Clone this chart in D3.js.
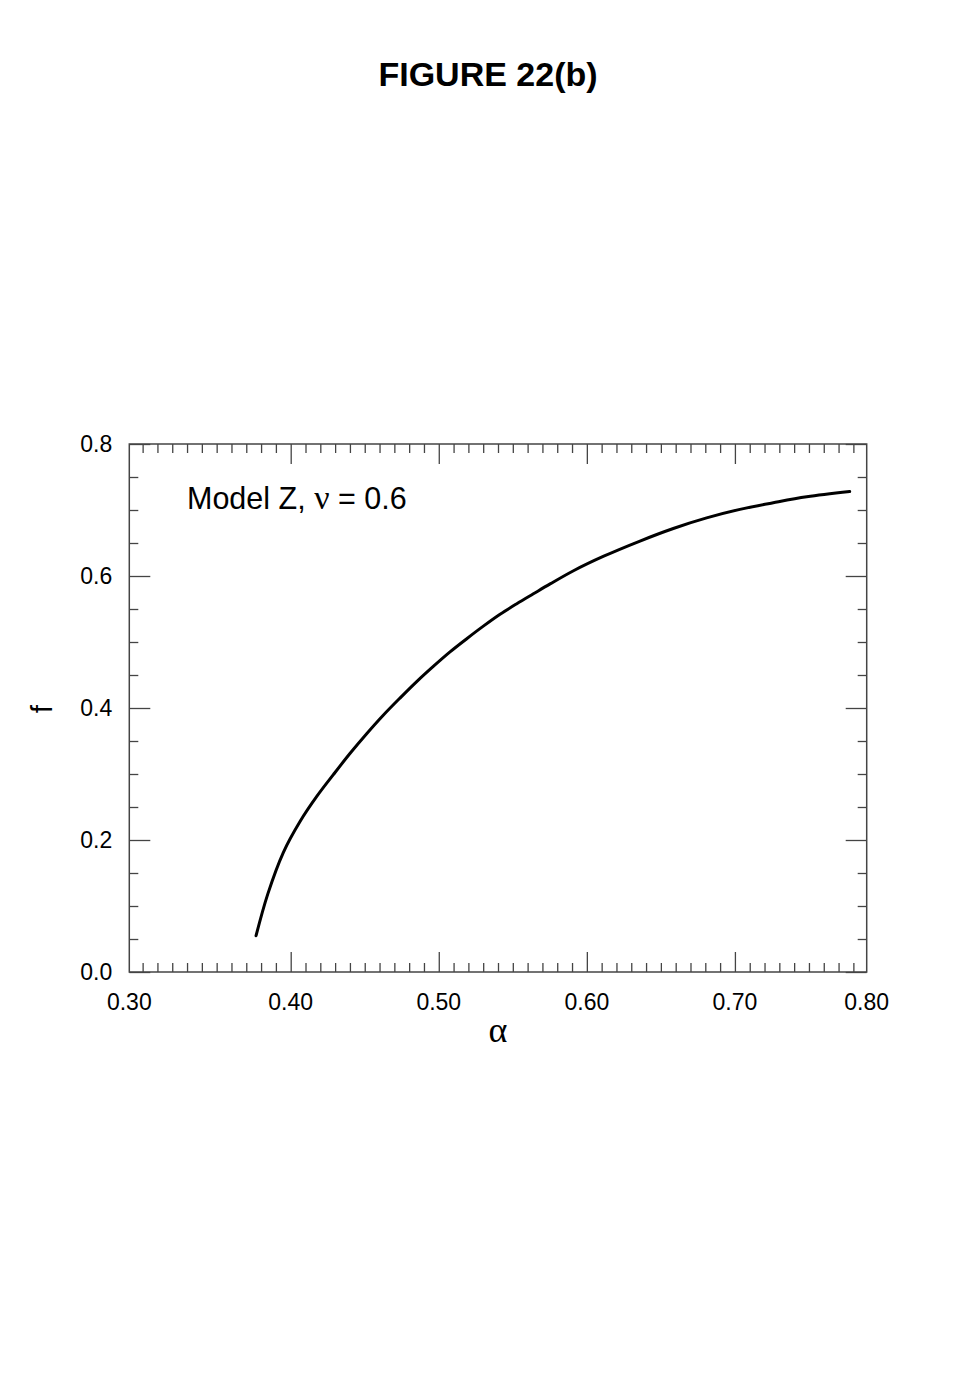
<!DOCTYPE html>
<html>
<head>
<meta charset="utf-8">
<script src="https://cdn.jsdelivr.net/npm/d3@7"></script>
<style>
  body { margin: 0; background: #fff; }
  svg { display: block; }
  text { font-family: "Liberation Sans", Arial, Helvetica, sans-serif; fill: #000; }
  .frame { fill: none; stroke: #444; stroke-width: 1.5; }
  .axis path { display: none; }
  .axis line { stroke: #444; stroke-width: 1.3; }
</style>
</head>
<body>
<div id="chart"></div>
<script>
// curve f(alpha) for Model Z, nu = 0.6
const alphaValues = [0.3766, 0.3845, 0.3950, 0.4063, 0.4176, 0.4288, 0.4400, 0.4513, 0.4625,
  0.4738, 0.4851, 0.4963, 0.5076, 0.5189, 0.5301, 0.5414, 0.5527, 0.5639, 0.5752, 0.5910,
  0.6114, 0.6359, 0.6584, 0.6809, 0.7034, 0.7259, 0.7485, 0.7775];
const fValues = [0.055, 0.118, 0.181, 0.228, 0.266, 0.299, 0.331, 0.361, 0.389,
  0.415, 0.440, 0.463, 0.485, 0.505, 0.524, 0.542, 0.558, 0.573, 0.588, 0.608,
  0.630, 0.653, 0.672, 0.688, 0.701, 0.711, 0.720, 0.728];

// axis extents and labels
const xDomain = [0.291, 0.789];
const yDomain = [0, 0.8];
const xMajorTicks = [0.4, 0.5, 0.6, 0.7];
const xMinorTicks = d3.range(30, 79).map(d => d / 100).filter(d => !xMajorTicks.includes(d));
const yMajorTicks = [0, 0.2, 0.4, 0.6, 0.8];
const yMinorTicks = [0.05, 0.1, 0.15, 0.25, 0.3, 0.35, 0.45, 0.5, 0.55, 0.65, 0.7, 0.75];
// the original puts its end labels on the frame edges
const xTickLabels = ['0.30', '0.40', '0.50', '0.60', '0.70', '0.80'];
const xLabelPositions = [xDomain[0], 0.4, 0.5, 0.6, 0.7, xDomain[1]];
const yTickLabels = ['0.0', '0.2', '0.4', '0.6', '0.8'];

const width = 972;
const height = 1384;
const plotLeft = 129.3;
const plotRight = 866.7;
const plotTop = 444;
const plotBottom = 972;

const svg = d3.select('#chart')
  .append('svg')
  .attr('width', width)
  .attr('height', height);

const x = d3.scaleLinear().domain(xDomain).range([plotLeft, plotRight]);
const y = d3.scaleLinear().domain(yDomain).range([plotBottom, plotTop]);

svg.append('text')
  .attr('x', 488)
  .attr('y', 86)
  .attr('text-anchor', 'middle')
  .style('font-size', '34px')
  .style('font-weight', 'bold')
  .text('FIGURE 22(b)');

const axes = svg.append('g');

function addAxis(axisFn, scale, ticks, size, transform) {
  axes.append('g')
    .attr('class', 'axis')
    .attr('transform', transform)
    .call(axisFn(scale).tickValues(ticks).tickSizeInner(-size).tickSizeOuter(0).tickFormat(''));
}

// ticks point inward on all four sides
addAxis(d3.axisBottom, x, xMinorTicks, 9, `translate(0,${plotBottom})`);
addAxis(d3.axisBottom, x, xMajorTicks, 20, `translate(0,${plotBottom})`);
addAxis(d3.axisTop, x, xMinorTicks, 9, `translate(0,${plotTop})`);
addAxis(d3.axisTop, x, xMajorTicks, 20, `translate(0,${plotTop})`);
addAxis(d3.axisLeft, y, yMinorTicks, 9, `translate(${plotLeft},0)`);
addAxis(d3.axisLeft, y, yMajorTicks, 21, `translate(${plotLeft},0)`);
addAxis(d3.axisRight, y, yMinorTicks, 9, `translate(${plotRight},0)`);
addAxis(d3.axisRight, y, yMajorTicks, 21, `translate(${plotRight},0)`);

svg.append('rect')
  .attr('class', 'frame')
  .attr('x', plotLeft)
  .attr('y', plotTop)
  .attr('width', plotRight - plotLeft)
  .attr('height', plotBottom - plotTop);

svg.append('g')
  .selectAll('text')
  .data(xTickLabels)
  .join('text')
  .attr('x', (d, i) => x(xLabelPositions[i]))
  .attr('y', plotBottom + 38)
  .attr('text-anchor', 'middle')
  .style('font-size', '23px')
  .text(d => d);

svg.append('g')
  .selectAll('text')
  .data(yTickLabels)
  .join('text')
  .attr('x', plotLeft - 17)
  .attr('y', (d, i) => y(yMajorTicks[i]) + 8)
  .attr('text-anchor', 'end')
  .style('font-size', '23px')
  .text(d => d);

svg.append('text')
  .attr('x', 498)
  .attr('y', 1042)
  .attr('text-anchor', 'middle')
  .style('font-family', '"Liberation Serif", "DejaVu Serif", serif')
  .style('font-size', '36px')
  .text('α');

svg.append('text')
  .attr('transform', 'translate(52,709) rotate(-90)')
  .attr('text-anchor', 'middle')
  .style('font-size', '30px')
  .text('f');

const label = svg.append('text')
  .attr('x', 187)
  .attr('y', 509)
  .style('font-size', '30.5px');
label.append('tspan').text('Model Z, ');
label.append('tspan')
  .style('font-family', '"Liberation Serif", "DejaVu Serif", serif')
  .style('font-size', '34px')
  .text('ν');
label.append('tspan').text(' = 0.6');

const points = alphaValues.map((a, i) => [a, fValues[i]]);

svg.append('path')
  .datum(points)
  .attr('fill', 'none')
  .attr('stroke', '#000')
  .attr('stroke-width', 3)
  .attr('stroke-linecap', 'round')
  .attr('d', d3.line()
    .x(d => x(d[0]))
    .y(d => y(d[1]))
    .curve(d3.curveCatmullRom.alpha(0.5)));
</script>
</body>
</html>
